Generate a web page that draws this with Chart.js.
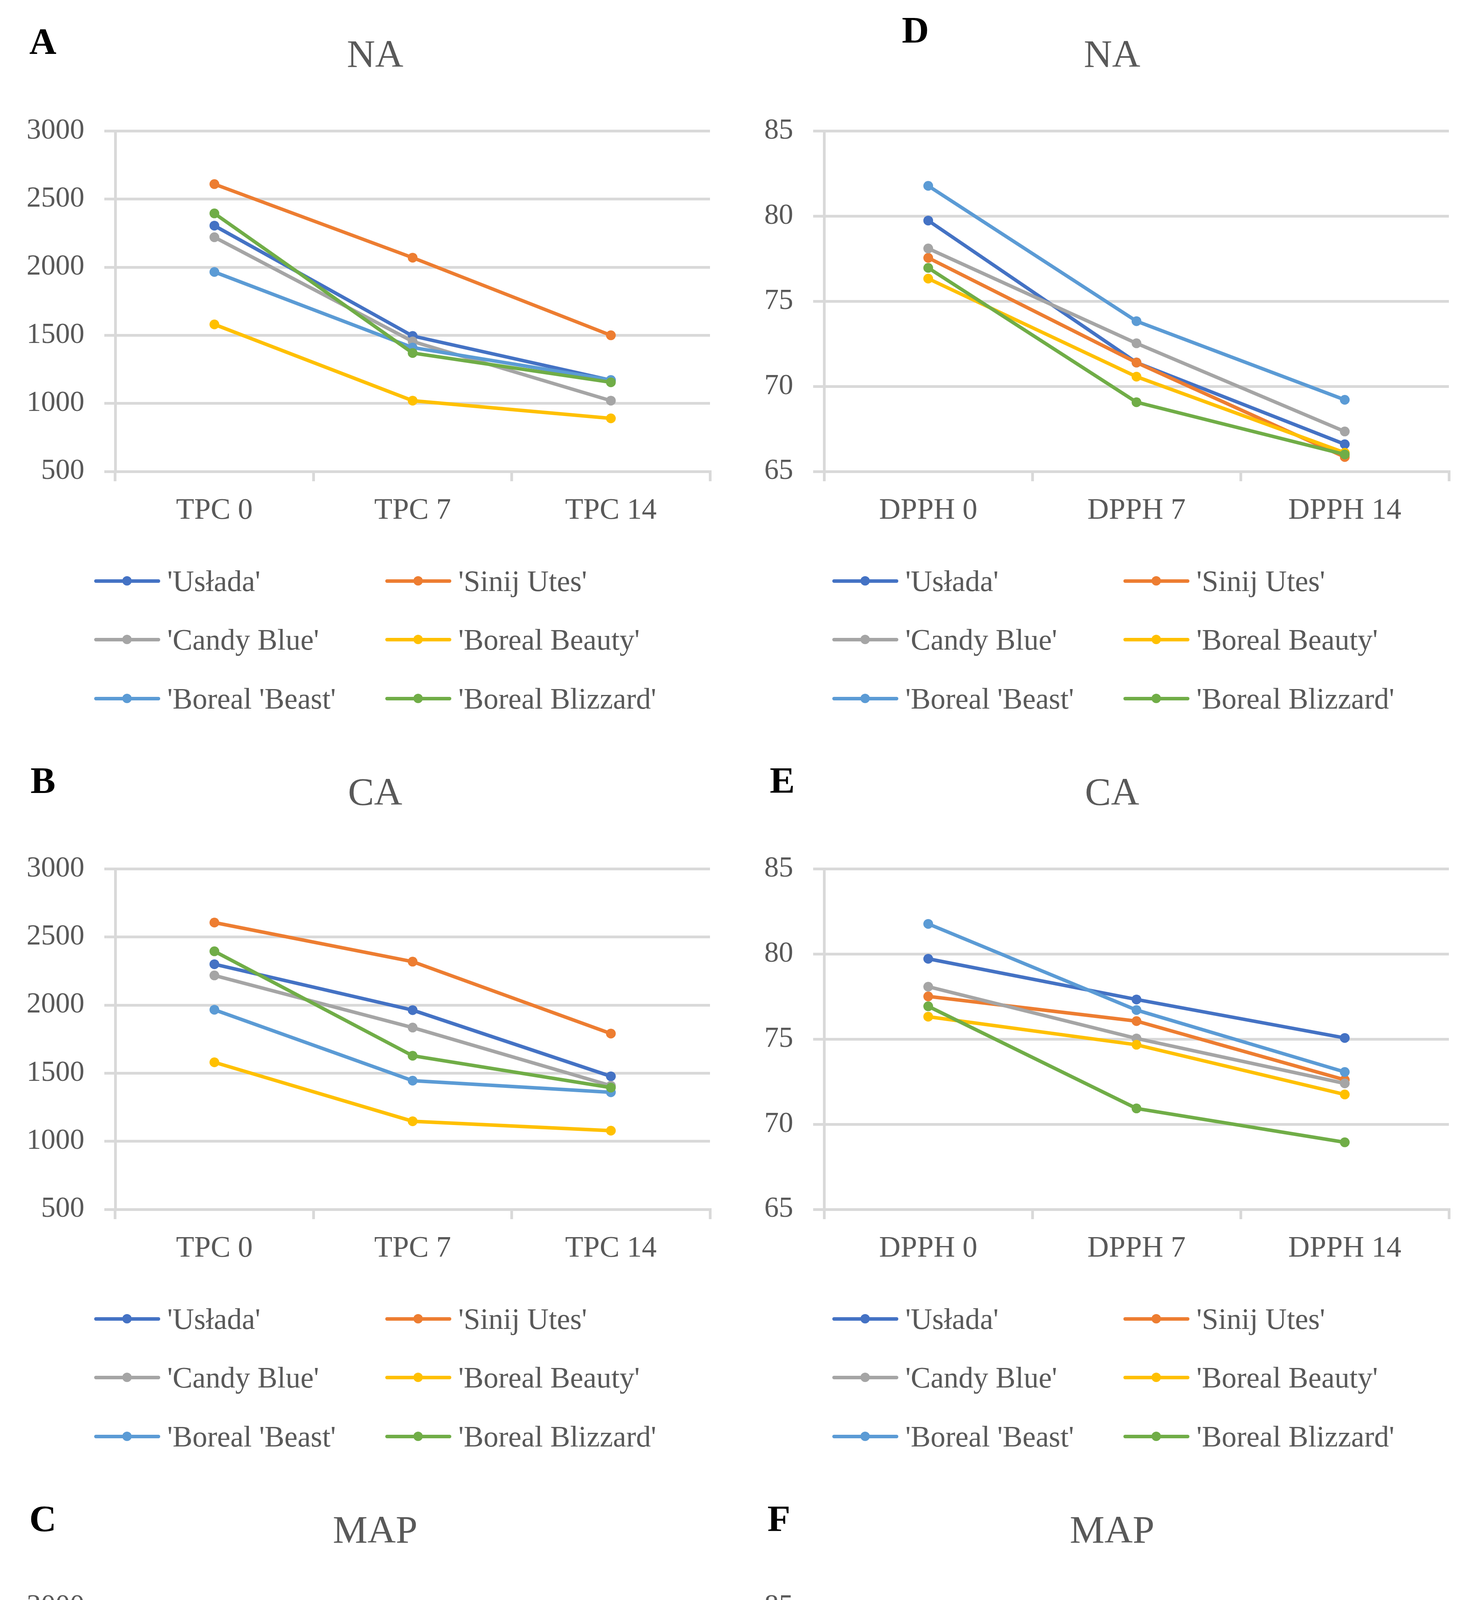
<!DOCTYPE html>
<html>
<head>
<meta charset="utf-8">
<script src="https://cdn.jsdelivr.net/npm/chart.js@4.4.1/dist/chart.umd.min.js"></script>
<style>
  html, body { margin: 0; background: #fff; }
  #page { position: relative; width: 3762px; height: 5642px; background: #fff; font-family: 'Liberation Serif', serif; overflow: hidden; }
  canvas { position: absolute; }
  .letter { position: absolute; font-weight: bold; font-size: 96px; line-height: 1; color: #000; }
  .title { position: absolute; font-size: 100px; line-height: 1; color: #595959; transform: translateX(-50%); white-space: nowrap; }
  .leg { position: absolute; font-size: 76px; line-height: 1; color: #595959; white-space: nowrap; }
  .sw { position: absolute; height: 9px; border-radius: 5px; }
  .dot { position: absolute; width: 24px; height: 24px; border-radius: 50%; }
</style>
</head>
<body>
<div id="page"></div>
<script>
// categories and tick labels
const tpcLabels = ['TPC 0', 'TPC 7', 'TPC 14'];
const dpphLabels = ['DPPH 0', 'DPPH 7', 'DPPH 14'];
const tpcTicks = [500, 1000, 1500, 2000, 2500, 3000];
const dpphTicks = [65, 70, 75, 80, 85];

const cultivars = ["'Usłada'", "'Sinij Utes'", "'Candy Blue'", "'Boreal Beauty'", "'Boreal 'Beast'", "'Boreal Blizzard'"];
const colors = ['#4472C4', '#ED7D31', '#A5A5A5', '#FFC000', '#5B9BD5', '#70AD47'];

// TPC values, one row per cultivar (same order as cultivars)
const tpcNA = [
  [2305, 1495, 1170],
  [2610, 2070, 1500],
  [2220, 1455, 1020],
  [1580, 1020, 890],
  [1965, 1410, 1172],
  [2395, 1370, 1155]
];
const tpcCA = [
  [2300, 1963, 1477],
  [2606, 2319, 1791],
  [2218, 1835, 1408],
  [1580, 1147, 1078],
  [1966, 1445, 1360],
  [2395, 1628, 1394]
];
const tpcMAP = [
  [2305, 2076, 1362],
  [2608, 2154, 1794],
  [2222, 1587, 1195],
  [1583, 1142, 1080],
  [1966, 1415, 1147],
  [2397, 1968, 1358]
];

// DPPH values
const dpphNA = [
  [79.74, 71.40, 66.60],
  [77.55, 71.40, 65.85],
  [78.10, 72.53, 67.35],
  [76.33, 70.57, 66.10],
  [81.78, 73.83, 69.21],
  [76.96, 69.07, 66.00]
];
const dpphCA = [
  [79.72, 77.33, 75.07],
  [77.51, 76.06, 72.61],
  [78.08, 75.04, 72.40],
  [76.32, 74.67, 71.75],
  [81.77, 76.71, 73.07],
  [76.93, 70.93, 68.94]
];
const dpphMAP = [
  [79.75, 76.36, 72.60],
  [77.55, 75.04, 72.82],
  [78.12, 73.75, 71.39],
  [76.34, 74.50, 71.62],
  [81.81, 76.39, 73.81],
  [76.96, 72.63, 69.44]
];

const panels = [
  { letter: 'A', title: 'NA',  row: 0, col: 0, labels: tpcLabels,  ticks: tpcTicks,  values: tpcNA,   lx: 75,  ly: 58 },
  { letter: 'B', title: 'CA',  row: 1, col: 0, labels: tpcLabels,  ticks: tpcTicks,  values: tpcCA,   lx: 78,  ly: 61 },
  { letter: 'C', title: 'MAP', row: 2, col: 0, labels: tpcLabels,  ticks: tpcTicks,  values: tpcMAP,  lx: 75,  ly: 62 },
  { letter: 'D', title: 'NA',  row: 0, col: 1, labels: dpphLabels, ticks: dpphTicks, values: dpphNA,  lx: 428, ly: 29 },
  { letter: 'E', title: 'CA',  row: 1, col: 1, labels: dpphLabels, ticks: dpphTicks, values: dpphCA,  lx: 90,  ly: 61 },
  { letter: 'F', title: 'MAP', row: 2, col: 1, labels: dpphLabels, ticks: dpphTicks, values: dpphMAP, lx: 84,  ly: 62 }
];

const page = document.getElementById('page');
const grey = '#595959';
const gridColor = '#d9d9d9';

function el(cls, text, left, top) {
  const d = document.createElement('div');
  d.className = cls;
  if (text) d.textContent = text;
  d.style.left = left + 'px';
  d.style.top = top + 'px';
  page.appendChild(d);
  return d;
}

function buildPanel(p) {
  const ox = p.col * 1880, oy = p.row * 1889;
  const cw = p.col ? 1882 : 1880;
  const plotLeft = p.col ? 229 : 295;
  const plotRight = p.col ? 1828 : 1817;
  const canvasTop = 240, canvasH = 1160, plotTop = 302, plotBottom = 1207;

  el('letter', p.letter, ox + p.lx, oy + p.ly);
  el('title', p.title, ox + (p.col ? 966 : 960), oy + 88);

  const cv = document.createElement('canvas');
  cv.width = cw;
  cv.height = canvasH;
  cv.style.left = ox + 'px';
  cv.style.top = (oy + canvasTop) + 'px';
  page.appendChild(cv);

  const n = cultivars.length;
  new Chart(cv, {
    type: 'line',
    data: {
      labels: p.labels,
      datasets: cultivars.map((name, i) => ({
        label: name,
        data: p.values[i],
        borderColor: colors[i],
        backgroundColor: colors[i],
        pointBackgroundColor: colors[i],
        pointBorderColor: colors[i],
        borderWidth: 9,
        pointRadius: 12.5,
        pointBorderWidth: 0,
        tension: 0,
        order: n - 1 - i   // later series drawn on top, like the original
      }))
    },
    options: {
      responsive: false,
      animation: false,
      devicePixelRatio: 1,
      layout: { padding: { top: plotTop - canvasTop, right: cw - plotRight, left: 0, bottom: 0 } },
      plugins: { legend: { display: false }, tooltip: { enabled: false } },
      scales: {
        x: {
          offset: true,
          grid: { offset: true, drawOnChartArea: false, drawTicks: true, tickLength: 25, color: gridColor, lineWidth: 7 },
          border: { display: true, color: gridColor, width: 7 },
          ticks: { color: grey, font: { family: 'Liberation Serif', size: 76 }, padding: 30, maxRotation: 0, autoSkip: false },
          afterFit(s) { s.height = canvasTop + canvasH - plotBottom; }
        },
        y: {
          min: p.ticks[0],
          max: p.ticks[p.ticks.length - 1],
          ticks: {
            stepSize: p.ticks[1] - p.ticks[0],
            color: grey,
            font: { family: 'Liberation Serif', size: 74 },
            padding: 51,
            callback: v => String(v)
          },
          grid: { color: gridColor, lineWidth: 7, tickLength: 28 },
          border: { display: true, color: gridColor, width: 7 },
          afterFit(s) { s.width = plotLeft; }
        }
      }
    }
  });

  // legend: 3 rows x 2 columns
  const shift = p.col ? 9 : 0;
  const rowsY = [1487, 1637, 1788];
  cultivars.forEach((name, i) => {
    const r = Math.floor(i / 2), c = i % 2;
    const y = oy + rowsY[r];
    const lineX = ox + shift + (c ? 986 : 241);
    const sw = el('sw', '', lineX, y - 4.5);
    sw.style.width = '169px';
    sw.style.background = colors[i];
    const dot = el('dot', '', lineX + 84 - 12, y - 12);
    dot.style.background = colors[i];
    el('leg', name, lineX + 187, y - 38.5);
  });
}

panels.forEach(buildPanel);
</script>
</body>
</html>
